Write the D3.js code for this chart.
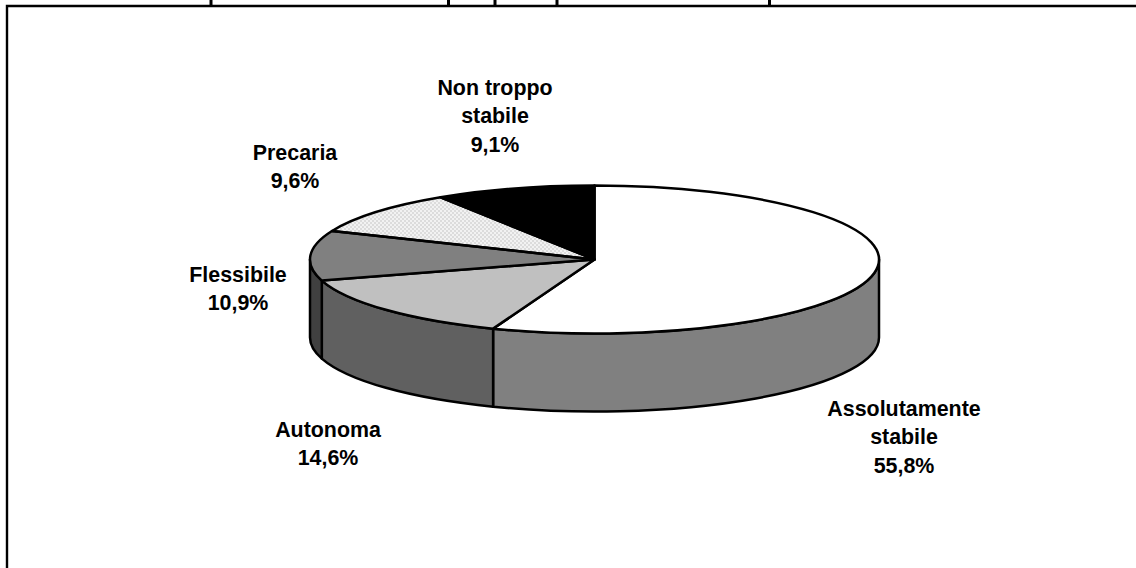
<!DOCTYPE html>
<html>

<head>
    <meta charset="UTF-8">
    <title>Pie</title>
    <script src="https://cdn.jsdelivr.net/npm/d3@7"></script>
    <style>
        body { margin: 0; background: #fff; }
        svg { display: block; }
        text { font-family: "Liberation Sans", Arial, sans-serif; font-weight: bold; font-size: 21.4px; fill: #000; }
    </style>
</head>

<body>
    <script>
        const categories = ['Assolutamente stabile', 'Autonoma', 'Flessibile', 'Precaria', 'Non troppo stabile'];
        const values = [55.8, 14.6, 10.9, 9.6, 9.1];
        const valueLabels = ['55,8%', '14,6%', '10,9%', '9,6%', '9,1%'];
        const labelLines = [['Assolutamente', 'stabile'], ['Autonoma'], ['Flessibile'], ['Precaria'], ['Non troppo', 'stabile']];

        const topColors = ['#ffffff', '#c0c0c0', '#808080', 'url(#dots)', '#000000'];
        const sideColors = ['#808080', '#606060', '#404040', '#808080', '#000000'];
        const labelAnchors = [[904, 416], [328, 437], [238, 282], [295, 160], [495, 95]];
        // bits of the cropped title that still show above the frame
        const titleStubs = [211, 448.5, 495, 557, 769.5];

        const width = 1136, height = 568;
        const cx = 594.5, cy = 259.5, rx = 284.5, ry = 74, depth = 78;
        const lineW = 2.5;

        const svg = d3.select('body').append('svg')
            .attr('width', width)
            .attr('height', height);

        const dots = svg.append('defs').append('pattern')
            .attr('id', 'dots')
            .attr('width', 4).attr('height', 4)
            .attr('patternUnits', 'userSpaceOnUse');
        dots.append('rect').attr('width', 4).attr('height', 4).attr('fill', '#f2f2f2');
        dots.append('rect').attr('width', 2).attr('height', 2).attr('fill', '#dcdcdc');
        dots.append('rect').attr('x', 2).attr('y', 2).attr('width', 2).attr('height', 2).attr('fill', '#dcdcdc');

        // frame, runs off the page on the right and at the bottom
        svg.append('path')
            .attr('d', `M7,${height + 5}V6H${width + 5}`)
            .attr('fill', 'none').attr('stroke', '#000').attr('stroke-width', 2.4);

        svg.selectAll('.stub')
            .data(titleStubs)
            .join('rect')
            .attr('class', 'stub')
            .attr('x', d => d - 1.5).attr('y', 0)
            .attr('width', 3).attr('height', 5)
            .attr('fill', '#000');

        const pie = d3.pie().sort(null).value(d => d);
        const slices = pie(values);

        const px = a => cx + rx * Math.sin(a);
        const py = a => cy - ry * Math.cos(a);

        // front wall, only the part between 3 and 9 o'clock is seen
        const side = svg.append('g').attr('stroke', '#000').attr('stroke-width', lineW).attr('stroke-linejoin', 'round');
        slices.forEach((s, i) => {
            const a0 = Math.max(s.startAngle, Math.PI / 2);
            const a1 = Math.min(s.endAngle, Math.PI * 1.5);
            if (a1 <= a0) return;
            side.append('path')
                .attr('fill', sideColors[i])
                .attr('d', `M${px(a0)},${py(a0)}` +
                    `A${rx},${ry} 0 0 1 ${px(a1)},${py(a1)}` +
                    `V${py(a1) + depth}` +
                    `A${rx},${ry} 0 0 0 ${px(a0)},${py(a0) + depth}Z`);
        });

        // pattern goes on its own path so the dots do not get squashed
        slices.forEach((s, i) => {
            if (topColors[i] !== 'url(#dots)') return;
            svg.append('path')
                .attr('fill', topColors[i])
                .attr('d', `M${cx},${cy}L${px(s.startAngle)},${py(s.startAngle)}` +
                    `A${rx},${ry} 0 0 1 ${px(s.endAngle)},${py(s.endAngle)}Z`);
        });

        // top face is a circle pie squashed flat
        const arc = d3.arc().innerRadius(0).outerRadius(rx);
        svg.append('g')
            .attr('transform', `translate(${cx},${cy}) scale(1,${ry / rx})`)
            .selectAll('path')
            .data(slices)
            .join('path')
            .attr('d', arc)
            .attr('fill', (d, i) => topColors[i] === 'url(#dots)' ? 'none' : topColors[i])
            .attr('stroke', '#000')
            .attr('stroke-width', lineW)
            .attr('stroke-linejoin', 'round')
            .attr('vector-effect', 'non-scaling-stroke');

        const label = svg.selectAll('.label')
            .data(categories)
            .join('text')
            .attr('class', 'label')
            .attr('text-anchor', 'middle')
            .attr('transform', (d, i) => `translate(${labelAnchors[i]})`);

        label.each(function (d, i) {
            const lines = labelLines[i].concat(valueLabels[i]);
            d3.select(this).selectAll('tspan')
                .data(lines)
                .join('tspan')
                .attr('x', 0)
                .attr('y', (l, j) => j * 28.4)
                .text(l => l);
        });
    </script>
</body>

</html>
